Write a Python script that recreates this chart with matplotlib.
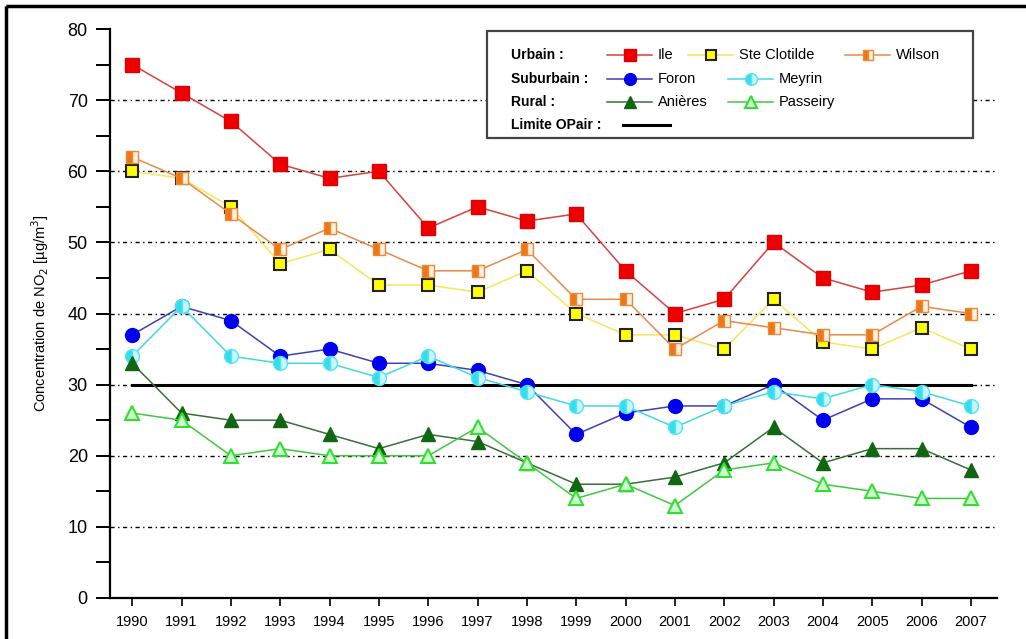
import matplotlib
matplotlib.use("Agg")
import matplotlib.pyplot as plt
from matplotlib.lines import Line2D
from matplotlib.patches import Rectangle
import numpy as np

# ---- data: annual mean NO2 concentration (µg/m3) ----
years = list(range(1990, 2008))
ile = [75, 71, 67, 61, 59, 60, 52, 55, 53, 54, 46, 40, 42, 50, 45, 43, 44, 46]
ste_clotilde = [60, 59, 55, 47, 49, 44, 44, 43, 46, 40, 37, 37, 35, 42, 36, 35, 38, 35]
wilson = [62, 59, 54, 49, 52, 49, 46, 46, 49, 42, 42, 35, 39, 38, 37, 37, 41, 40]
foron = [37, 41, 39, 34, 35, 33, 33, 32, 30, 23, 26, 27, 27, 30, 25, 28, 28, 24]
meyrin = [34, 41, 34, 33, 33, 31, 34, 31, 29, 27, 27, 24, 27, 29, 28, 30, 29, 27]
anieres = [33, 26, 25, 25, 23, 21, 23, 22, 19, 16, 16, 17, 19, 24, 19, 21, 21, 18]
passeiry = [26, 25, 20, 21, 20, 20, 20, 24, 19, 14, 16, 13, 18, 19, 16, 15, 14, 14]
limite_opair = 30

NARROW = ["Liberation Sans Narrow", "Liberation Sans", "DejaVu Sans"]
REGULAR = ["Liberation Sans", "DejaVu Sans"]

# marker / line styles per station
styles = {
    "Ile": dict(color="#d84040", marker="s", mfc="#ee0000", mec="#dd0000", ms=9.5),
    "Ste Clotilde": dict(color="#f5e65a", marker="s", mfc="#ffff00", mec="#222222", ms=9, mew=1.5),
    "Wilson": dict(color="#e88a4a", marker="s", mfc="#ee7711", mec="#ee8833", ms=9,
                   fillstyle="left", mfcalt="#fff0e0"),
    "Foron": dict(color="#4040b0", marker="o", mfc="#0000ee", mec="#0000ee", ms=10),
    "Meyrin": dict(color="#40d8e8", marker="o", mfc="#33ddee", mec="#55e5f0", ms=10,
                   fillstyle="left", mfcalt="#c8f6fa"),
    "Anières": dict(color="#3a6e3a", marker="^", mfc="#116611", mec="#116611", ms=10.5),
    "Passeiry": dict(color="#40c840", marker="^", mfc="#ccffcc", mec="#33dd33", ms=10.5, mew=1.5),
}
series = {
    "Ile": ile, "Ste Clotilde": ste_clotilde, "Wilson": wilson,
    "Foron": foron, "Meyrin": meyrin, "Anières": anieres, "Passeiry": passeiry,
}


def line_kwargs(st):
    kw = dict(color=st["color"], lw=1.1, marker=st["marker"], markersize=st["ms"],
              markerfacecolor=st["mfc"], markeredgecolor=st["mec"],
              markeredgewidth=st.get("mew", 1.0))
    if "fillstyle" in st:
        kw["fillstyle"] = st["fillstyle"]
        kw["markerfacecoloralt"] = st["mfcalt"]
    return kw


W, H = 1026, 639
fig = plt.figure(figsize=(W / 100, H / 100), dpi=100)

# main axes
ax = fig.add_axes([110 / W, 1 - 598 / H, (997 - 110) / W, (598 - 29) / H])
ax.set_xlim(1989.55, 2007.53)
ax.set_ylim(0, 80)

for y in range(10, 80, 10):
    ax.axhline(y, color="black", lw=1.0, linestyle=(0, (3, 2.5, 1, 2.5)), zorder=1)

ax.plot([years[0], years[-1]], [limite_opair, limite_opair], color="black", lw=2.2, zorder=2)

for name, vals in series.items():
    ax.plot(years, vals, zorder=3, **line_kwargs(styles[name]))

for side in ("top", "right"):
    ax.spines[side].set_visible(False)
for side in ("left", "bottom"):
    ax.spines[side].set_linewidth(1.6)
    ax.spines[side].set_color("black")

ax.set_yticks(np.arange(0, 81, 10))
ax.set_yticks(np.arange(5, 80, 10), minor=True)
ax.set_xticks(years)
ax.set_xticklabels([str(y) for y in years])
ax.tick_params(axis="y", which="both", direction="out", length=10, width=1.4, pad=6,
               labelsize=13)
ax.tick_params(axis="x", direction="out", length=6, width=1.2, pad=6, labelsize=10.5)
for lab in ax.get_yticklabels():
    lab.set_family(REGULAR)
for lab in ax.get_xticklabels():
    lab.set_family(NARROW)

ax.set_ylabel("Concentration de NO$_2$ [µg/m$^3$]", fontsize=10.5, family=NARROW, labelpad=12)

# overlay in pixel coordinates for the frame and legend
ov = fig.add_axes([0, 0, 1, 1], zorder=10)
ov.set_xlim(0, W)
ov.set_ylim(H, 0)
ov.axis("off")
ov.patch.set_alpha(0)

# outer frame
ov.add_patch(Rectangle((6, 6), W + 20, H + 20, fill=False, edgecolor="black", lw=2.5))

# legend box
ov.add_patch(Rectangle((487, 31), 486, 107, facecolor="white", edgecolor="#444444", lw=1.6))

row_y = [55, 79, 102, 125]
row_labels = ["Urbain :", "Suburbain :", "Rural :", "Limite OPair :"]
for y, t in zip(row_y, row_labels):
    ov.text(511, y, t, fontsize=10, family=NARROW, fontweight="bold", va="center", ha="left")

legend_items = [
    ("Ile", 0, 607),
    ("Ste Clotilde", 0, 688),
    ("Wilson", 0, 845),
    ("Foron", 1, 607),
    ("Meyrin", 1, 728),
    ("Anières", 2, 607),
    ("Passeiry", 2, 728),
]
for name, r, x0 in legend_items:
    st = dict(styles[name])
    st["ms"] = st["ms"] * 0.85
    kw = line_kwargs(st)
    y = row_y[r]
    ov.add_line(Line2D([x0, x0 + 45], [y, y], color=kw["color"], lw=1.1))
    mk = {k: v for k, v in kw.items() if k not in ("color", "lw")}
    ov.add_line(Line2D([x0 + 22.5], [y], linestyle="none", **mk))
    ov.text(x0 + 51, y, name, fontsize=10.5, family=NARROW, va="center", ha="left")

ov.add_line(Line2D([623, 670], [row_y[3], row_y[3]], color="black", lw=2.2))

fig.savefig("out.png", dpi=100)
